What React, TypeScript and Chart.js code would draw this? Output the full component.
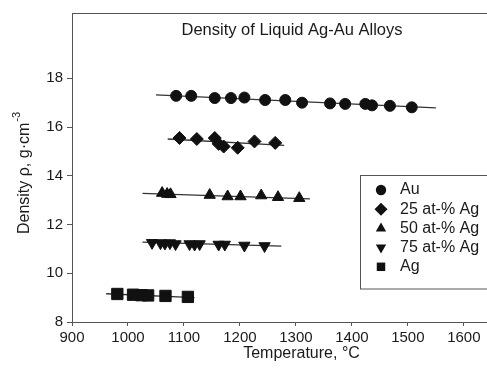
import React, { useEffect, useRef } from 'react';
import { Chart, registerables } from 'chart.js';
Chart.register(...registerables);

const chartTitle = 'Density of Liquid Ag-Au Alloys';
const xTitle = 'Temperature, °C';
const yTitleMain = 'Density ρ, g·cm';
const yTitleSup = '-3';
const seriesNames = ['Au', '25 at-% Ag', '50 at-% Ag', '75 at-% Ag', 'Ag'];
const seriesStyles = ['circle', 'rectRot', 'triangle', 'triangleDown', 'rect'];

const auTemp = [1086, 1113, 1155, 1184, 1208, 1245, 1281, 1311, 1361, 1388, 1424, 1436, 1468, 1507];
const auRho = [17.28, 17.28, 17.19, 17.19, 17.21, 17.11, 17.11, 17.0, 16.97, 16.95, 16.95, 16.89, 16.87, 16.81];
const ag25Temp = [1092, 1123, 1155, 1162, 1171, 1196, 1226, 1263];
const ag25Rho = [15.55, 15.51, 15.55, 15.31, 15.2, 15.15, 15.41, 15.35];
const ag50Temp = [1061, 1070, 1076, 1146, 1178, 1201, 1238, 1268, 1306];
const ag50Rho = [13.29, 13.25, 13.24, 13.21, 13.15, 13.15, 13.19, 13.12, 13.08];
const ag75Temp = [1043, 1058, 1066, 1075, 1085, 1110, 1119, 1128, 1162, 1173, 1208, 1244];
const ag75Rho = [11.25, 11.24, 11.22, 11.24, 11.2, 11.2, 11.18, 11.2, 11.18, 11.18, 11.14, 11.12];
const agTemp = [981, 1009, 1024, 1036, 1067, 1107];
const agRho = [9.15, 9.12, 9.1, 9.09, 9.07, 9.03];

// linear fit end points
const auFitTemp = [1050, 1550];
const auFitRho = [17.32, 16.79];
const ag25FitTemp = [1071, 1279];
const ag25FitRho = [15.51, 15.25];
const ag50FitTemp = [1026, 1325];
const ag50FitRho = [13.28, 13.05];
const ag75FitTemp = [1026, 1274];
const ag75FitRho = [11.28, 11.11];
const agFitTemp = [961, 1119];
const agFitRho = [9.16, 9.0];

const yTicks = [8, 10, 12, 14, 16, 18];

const FONT = "'Liberation Sans', Arial, sans-serif";
const INK = '#111111';
const AXIS = '#555555';

function drawMarker(ctx: CanvasRenderingContext2D, style: string, x: number, y: number, r: number) {
  ctx.beginPath();
  if (style === 'circle') {
    ctx.arc(x, y, r, 0, Math.PI * 2);
  } else if (style === 'rectRot') {
    ctx.moveTo(x, y - r);
    ctx.lineTo(x + r, y);
    ctx.lineTo(x, y + r);
    ctx.lineTo(x - r, y);
  } else if (style === 'triangle') {
    ctx.moveTo(x, y - r);
    ctx.lineTo(x + r * 0.866, y + r * 0.5);
    ctx.lineTo(x - r * 0.866, y + r * 0.5);
  } else if (style === 'triangleDown') {
    ctx.moveTo(x, y + r);
    ctx.lineTo(x + r * 0.866, y - r * 0.5);
    ctx.lineTo(x - r * 0.866, y - r * 0.5);
  } else {
    const s = r * 0.7071;
    ctx.rect(x - s, y - s, 2 * s, 2 * s);
  }
  ctx.closePath();
  ctx.fillStyle = INK;
  ctx.fill();
}

const decor = {
  id: 'decor',
  afterDraw(chart: any) {
    const ctx: CanvasRenderingContext2D = chart.ctx;
    const a = chart.chartArea;
    ctx.save();
    // top border
    ctx.strokeStyle = AXIS;
    ctx.lineWidth = 1;
    ctx.beginPath();
    ctx.moveTo(a.left, a.top + 0.5);
    ctx.lineTo(a.right, a.top + 0.5);
    ctx.stroke();
    // title
    ctx.fillStyle = '#1a1a1a';
    ctx.font = `16.5px ${FONT}`;
    ctx.textAlign = 'center';
    ctx.textBaseline = 'middle';
    ctx.fillText(chartTitle, 292, 30);
    // y title with superscript
    ctx.save();
    ctx.translate(25, 173);
    ctx.rotate(-Math.PI / 2);
    ctx.font = `16px ${FONT}`;
    const w1 = ctx.measureText(yTitleMain).width;
    ctx.font = `11px ${FONT}`;
    const w2 = ctx.measureText(yTitleSup).width;
    const start = -(w1 + w2 + 1) / 2;
    ctx.textAlign = 'left';
    ctx.font = `16px ${FONT}`;
    ctx.fillText(yTitleMain, start, 0);
    ctx.font = `11px ${FONT}`;
    ctx.fillText(yTitleSup, start + w1 + 1, -8);
    ctx.restore();
    // legend
    const lx = 360.5, ly = 175.5, lh = 113.5;
    ctx.strokeStyle = AXIS;
    ctx.strokeRect(lx, ly, 200, lh);
    const sizes = [5.2, 6.5, 6, 6, 6];
    seriesNames.forEach((name, i) => {
      const yy = 190 + i * 19.2;
      drawMarker(ctx, seriesStyles[i], 381, yy, sizes[i]);
      ctx.fillStyle = '#1a1a1a';
      ctx.font = `16px ${FONT}`;
      ctx.textAlign = 'left';
      ctx.textBaseline = 'middle';
      ctx.fillText(name, 400, yy);
    });
    ctx.restore();
  },
};

function pts(xs: number[], ys: number[]) {
  return xs.map((x, i) => ({ x, y: ys[i] }));
}

export default function App() {
  const ref = useRef<HTMLCanvasElement>(null);
  useEffect(() => {
    const canvas = ref.current!;
    const pointSet = (label: string, xs: number[], ys: number[], style: any, r: number, rot = 0) => ({
      label,
      data: pts(xs, ys),
      pointStyle: style,
      pointRadius: r,
      pointRotation: rot,
      pointBackgroundColor: INK,
      pointBorderColor: INK,
      pointBorderWidth: 1,
      showLine: false,
    });
    const lineSet = (xs: number[], ys: number[]) => ({
      label: '',
      data: pts(xs, ys),
      showLine: true,
      pointRadius: 0,
      borderColor: '#333333',
      borderWidth: 1.3,
    });
    const chart = new Chart(canvas, {
      type: 'scatter',
      data: {
        datasets: [
          pointSet(seriesNames[0], auTemp, auRho, 'circle', 5.5),
          pointSet(seriesNames[1], ag25Temp, ag25Rho, 'rectRot', 6.5),
          pointSet(seriesNames[2], ag50Temp, ag50Rho, 'triangle', 6.5),
          pointSet(seriesNames[3], ag75Temp, ag75Rho, 'triangle', 6.5, 180),
          pointSet(seriesNames[4], agTemp, agRho, 'rect', 8),
          lineSet(auFitTemp, auFitRho),
          lineSet(ag25FitTemp, ag25FitRho),
          lineSet(ag50FitTemp, ag50FitRho),
          lineSet(ag75FitTemp, ag75FitRho),
          lineSet(agFitTemp, agFitRho),
        ] as any,
      },
      options: {
        responsive: false,
        animation: false,
        events: [],
        layout: { padding: { left: 0, top: 5, right: 8, bottom: 0 } },
        plugins: { legend: { display: false }, tooltip: { enabled: false }, title: { display: false } },
        scales: {
          x: {
            type: 'linear',
            min: 900,
            max: 1720,
            afterFit: (s: any) => { s.height = 53; },
            ticks: {
              stepSize: 100,
              includeBounds: false,
              color: '#1a1a1a',
              padding: 3,
              font: { size: 15, family: FONT },
              callback: (v: any) => String(v),
            },
            grid: { drawOnChartArea: false, drawTicks: true, tickLength: 4, color: AXIS },
            border: { display: true, color: AXIS, width: 1 },
            title: { display: true, text: xTitle, color: '#1a1a1a', font: { size: 16, family: FONT }, padding: { top: 0, bottom: 12 } },
          },
          y: {
            type: 'linear',
            min: 8,
            max: 20.68,
            afterFit: (s: any) => { s.width = 72; },
            afterBuildTicks: (s: any) => { s.ticks = yTicks.map((v) => ({ value: v })); },
            ticks: { color: '#1a1a1a', padding: 4, font: { size: 15, family: FONT }, callback: (v: any) => String(v) },
            grid: { drawOnChartArea: false, drawTicks: true, tickLength: 5, color: AXIS },
            border: { display: true, color: AXIS, width: 1 },
          },
        },
      } as any,
      plugins: [decor],
    });
    return () => chart.destroy();
  }, []);
  return (
    <div style={{ position: 'fixed', left: 0, top: 0, width: 487, height: 375, overflow: 'hidden', background: '#fff' }}>
      <canvas ref={ref} width={540} height={375} style={{ width: 540, height: 375, display: 'block' }} />
    </div>
  );
}
